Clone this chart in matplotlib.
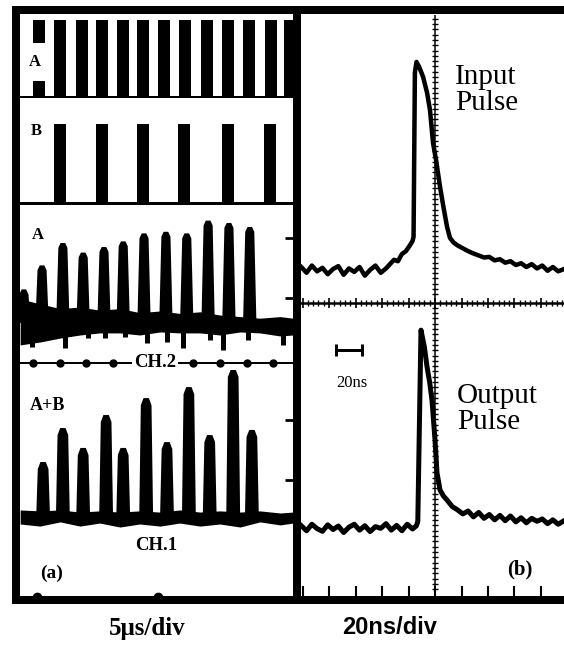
import numpy as np
import matplotlib
matplotlib.use('Agg')
import matplotlib.pyplot as plt

W, H, DPI = 564, 655, 100

# ---------------- (a) 5 us/div traces (time in us) ----------------
sq_a_t = [6.1, 10.1, 14.2, 17.9, 21.9, 25.6, 29.5, 33.5, 37.6, 41.5, 45.4, 49.6, 53.1]
sq_a_h = 0.94
sq_b_t = [10.1, 17.9, 25.6, 33.3, 41.5, 49.4]
sq_b_h = 0.75

# trace A (CH.2): pulse centres and peak heights
trA_t = [3.3, 6.7, 10.6, 14.4, 18.3, 21.9, 25.8, 29.9, 33.8, 37.8, 41.7, 45.6]
trA_peak = [0.46, 0.61, 0.75, 0.69, 0.725, 0.76, 0.81, 0.82, 0.81, 0.89, 0.875, 0.85]
trA_dip_t = [4.8, 11.0, 15.3, 18.5, 22.2, 26.3, 30.1, 33.1, 38.1, 40.6, 45.3, 51.8]
trA_dip_v = [0.10, 0.094, 0.156, 0.156, 0.163, 0.125, 0.131, 0.094, 0.144, 0.081, 0.144, 0.113]

band_t = [2.6, 6.3, 10.1, 13.8, 17.5, 21.3, 25.0, 28.8, 32.5, 36.3, 40.0, 43.8, 47.5, 51.3, 53.7]
trA_hi = [0.40, 0.37, 0.34, 0.35, 0.33, 0.34, 0.315, 0.325, 0.31, 0.32, 0.30, 0.29, 0.28, 0.29, 0.28]
trA_lo = [0.113, 0.131, 0.156, 0.175, 0.188, 0.188, 0.175, 0.194, 0.188, 0.188, 0.175, 0.194, 0.188, 0.169, 0.175]

# trace A+B (CH.1)
trAB_t = [6.9, 10.6, 14.4, 18.7, 21.9, 26.2, 30.1, 34.2, 38.1, 42.5, 46.0]
trAB_peak = [0.577, 0.722, 0.637, 0.778, 0.637, 0.85, 0.662, 0.897, 0.692, 0.97, 0.714]
trAB_hi = [0.372, 0.368, 0.372, 0.363, 0.368, 0.363, 0.368, 0.363, 0.372, 0.363, 0.368, 0.363, 0.368, 0.359, 0.363]
trAB_lo = [0.312, 0.303, 0.321, 0.303, 0.316, 0.299, 0.312, 0.303, 0.316, 0.303, 0.312, 0.299, 0.321, 0.308, 0.316]

ch2_dots = [5, 10, 15, 20, 25, 30, 35, 40, 45, 50]
bottom_dots = [5.8, 28.5]

# ---------------- (b) 20 ns/div traces (time in ns) ----------------
in_t = [-101, -97, -93, -89, -85, -81, -77, -73, -69, -65, -61, -57, -53, -49, -45, -41,
        -37, -34, -31, -28, -25, -22, -19, -17, -16.2, -15.2, -14, -12, -9, -6, -3.8,
        -1.5, 1, 3.8, 6.5, 9.1, 11.3, 14, 17, 21, 25, 29, 33, 37, 41, 45, 49, 53, 57,
        61, 65, 69, 73, 77, 81, 85, 89, 93, 97.4]
in_v = [0.125, 0.105, 0.13, 0.11, 0.122, 0.10, 0.118, 0.128, 0.098, 0.12, 0.108, 0.125,
        0.095, 0.115, 0.13, 0.105, 0.12, 0.135, 0.15, 0.145, 0.17, 0.18, 0.20, 0.215,
        0.23, 0.80, 0.837, 0.82, 0.785, 0.73, 0.67, 0.556, 0.49, 0.403, 0.33, 0.264,
        0.226, 0.21, 0.20, 0.19, 0.18, 0.172, 0.165, 0.158, 0.16, 0.148, 0.152, 0.14,
        0.145, 0.132, 0.138, 0.125, 0.135, 0.12, 0.13, 0.112, 0.125, 0.11, 0.118]

out_t = [-101, -97, -93, -89, -85, -81, -77, -73, -69, -65, -61, -57, -53, -49, -45, -41,
         -37, -33, -29, -25, -21, -17, -14, -13, -10.6, -8, -6, -4, -2.3, 0, 1.5, 3.8,
         6.5, 9.1, 13, 16.6, 21, 25, 29, 33, 37, 41, 45, 49, 53, 57, 61, 65, 69, 73, 77,
         81, 85, 89, 93, 97.4]
out_v = [0.245, 0.228, 0.25, 0.235, 0.226, 0.248, 0.232, 0.244, 0.222, 0.24, 0.25, 0.23,
         0.245, 0.225, 0.242, 0.236, 0.252, 0.23, 0.246, 0.228, 0.25, 0.234, 0.245, 0.26,
         0.908, 0.85, 0.783, 0.73, 0.671, 0.536, 0.424, 0.366, 0.345, 0.332, 0.31, 0.30,
         0.285, 0.295, 0.275, 0.29, 0.27, 0.283, 0.265, 0.28, 0.262, 0.278, 0.258, 0.272,
         0.255, 0.27, 0.26, 0.268, 0.252, 0.265, 0.25, 0.262]

scale_bar_ns = [-75, -55]
scale_bar_v = 0.84

# ---------------- helpers ----------------
plt.rcParams['font.family'] = 'Liberation Serif'


def rect(x0, y0, x1, y1):
    return [x0 / W, 1 - y1 / H, (x1 - x0) / W, (y1 - y0) / H]


def lw(px):
    return px * 72 / DPI


def clean(ax):
    ax.set_xticks([])
    ax.set_yticks([])
    for s in ax.spines.values():
        s.set_visible(False)
    ax.patch.set_visible(False)


def draw_pulses(ax, t, peak, base, w0, w1):
    for tc, p in zip(t, peak):
        xs = [tc - w0, tc - w1, tc - w1 * 0.5, tc + w1 * 0.5, tc + w1, tc + w0]
        ys = [base, p - 0.03, p, p, p - 0.03, base]
        ax.fill(xs, ys, color='k', lw=0)


def label(x, y, s, size, weight='bold', family='Liberation Serif', **kw):
    fig.text(x / W, 1 - y / H, s, fontsize=size, fontweight=weight,
             family=family, ha=kw.pop('ha', 'center'), va=kw.pop('va', 'center'), **kw)


fig = plt.figure(figsize=(W / DPI, H / DPI), dpi=DPI)
T0, T1 = 2.57, 53.7

# square pulse trains A and B
ax_pA = fig.add_axes(rect(20, 15, 293, 97))
clean(ax_pA)
ax_pA.bar(sq_a_t, sq_a_h, width=2.25, color='k')
ax_pA.set_xlim(T0, T1)
ax_pA.set_ylim(0, 1)
ax_pA.spines['bottom'].set_visible(True)
ax_pA.spines['bottom'].set_linewidth(lw(2))

ax_pB = fig.add_axes(rect(20, 97, 293, 203))
clean(ax_pB)
ax_pB.bar(sq_b_t, sq_b_h, width=2.25, color='k')
ax_pB.set_xlim(T0, T1)
ax_pB.set_ylim(0, 1)
ax_pB.spines['bottom'].set_visible(True)
ax_pB.spines['bottom'].set_linewidth(lw(3))

# trace A on CH.2
ax_trA = fig.add_axes(rect(20, 203, 293, 363))
clean(ax_trA)
ax_trA.fill_between(band_t, trA_lo, trA_hi, color='k', lw=0)
draw_pulses(ax_trA, trA_t, trA_peak, 0.25, 1.25, 0.85)
ax_trA.vlines(trA_dip_t, 0.2, trA_dip_v, color='k', lw=lw(5))
ax_trA.plot(ch2_dots, np.zeros(len(ch2_dots)), 'o', color='k', ms=5, clip_on=False)
ax_trA.spines['bottom'].set_visible(True)
ax_trA.spines['bottom'].set_linewidth(lw(2))
ax_trA.set_xlim(T0, T1)
ax_trA.set_ylim(0, 1)
ax_trA.set_yticks([0.406, 0.78])
ax_trA.tick_params(axis='y', left=False, right=True, direction='in', length=6,
                   width=2, labelleft=False)

# trace A+B on CH.1
ax_trAB = fig.add_axes(rect(20, 363, 293, 597))
clean(ax_trAB)
ax_trAB.fill_between(band_t, trAB_lo, trAB_hi, color='k', lw=0)
draw_pulses(ax_trAB, trAB_t, trAB_peak, 0.34, 1.3, 1.0)
ax_trAB.plot(bottom_dots, np.zeros(len(bottom_dots)), 'o', color='k', ms=6, clip_on=False)
ax_trAB.set_xlim(T0, T1)
ax_trAB.set_ylim(0, 1)
ax_trAB.set_yticks([0.5, 0.756])
ax_trAB.tick_params(axis='y', left=False, right=True, direction='in', length=6,
                    width=2, labelleft=False)

# (b) input / output pulses
TB0, TB1 = -101.2, 97.4
ax_in = fig.add_axes(rect(301, 15, 564, 303))
clean(ax_in)
ax_in.plot(in_t, in_v, color='k', lw=lw(4.5))
ax_in.axvline(0, color='k', lw=lw(1.5))
ax_in.set_xlim(TB0, TB1)
ax_in.set_ylim(0, 1)
ax_in.spines['bottom'].set_visible(True)
ax_in.spines['bottom'].set_linewidth(lw(2.5))
ax_in.set_xticks(np.arange(-100, 100, 20))
ax_in.set_xticks(np.arange(-100, 98, 4), minor=True)
ax_in.tick_params(axis='x', which='major', direction='inout', length=7, width=1.2,
                  labelbottom=False)
ax_in.tick_params(axis='x', which='minor', direction='inout', length=4, width=1)
yt = np.arange(0.03, 1.0, 0.0184)
ax_in.plot(np.zeros(len(yt)), yt, ls='none', marker='_', ms=4, mew=1, color='k')

ax_out = fig.add_axes(rect(301, 303, 564, 598))
clean(ax_out)
ax_out.plot(out_t, out_v, color='k', lw=lw(5))
ax_out.axvline(0, color='k', lw=lw(1.5))
ax_out.set_xlim(TB0, TB1)
ax_out.set_ylim(0, 1)
ax_out.set_xticks(np.arange(-100, 100, 20))
ax_out.tick_params(axis='x', direction='in', length=9, width=1.5, labelbottom=False)
yt2 = np.arange(0.03, 1.0, 0.018)
ax_out.plot(np.zeros(len(yt2)), yt2, ls='none', marker='_', ms=4, mew=1, color='k')
ax_out.plot(scale_bar_ns, [scale_bar_v, scale_bar_v], color='k', lw=lw(3),
            marker='|', ms=9, mew=lw(3))

# heavy photo frames
fl = fig.add_axes(rect(16, 10, 297, 600), zorder=5)
fl.set_xticks([])
fl.set_yticks([])
fl.patch.set_visible(False)
for s in fl.spines.values():
    s.set_linewidth(lw(8))

fr = fig.add_axes(rect(297, 10, 640, 600), zorder=5)
fr.set_xticks([])
fr.set_yticks([])
fr.patch.set_visible(False)
for s in fr.spines.values():
    s.set_linewidth(lw(8))
fr.spines['right'].set_visible(False)

# labels
white = dict(facecolor='white', edgecolor='none', boxstyle='square,pad=0.65')
label(35, 62, 'A', 12, bbox=white)
label(36, 131, 'B', 12)
label(38, 235, 'A', 12)
label(155, 362, 'CH.2', 13.5, bbox=dict(facecolor='white', edgecolor='none',
                                          boxstyle='square,pad=0.1'))
label(48, 405, 'A+B', 13)
label(156, 545, 'CH.1', 13.5)
label(52, 573, '(a)', 14)

label(455, 64, 'Input\nPulse', 21, weight='normal', ha='left', va='top', linespacing=1.0)
label(457, 383, 'Output\nPulse', 21, weight='normal', ha='left', va='top', linespacing=1.0)
label(352, 383, '20ns', 12, weight='normal')
label(520, 569, '(b)', 15)

label(147, 628, '5μs/div', 18)
label(390, 628, '20ns/div', 17, family='Liberation Sans')

fig.savefig('out.png', dpi=DPI)
